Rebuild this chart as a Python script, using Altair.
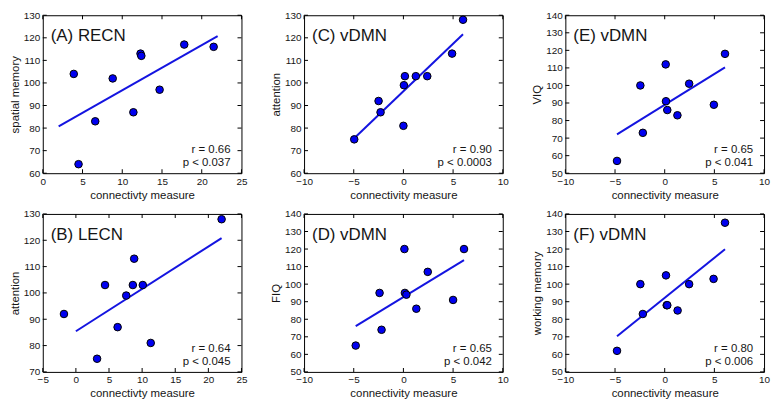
import altair as alt
import pandas as pd

# ---------------- data ----------------
A_x = [3.9, 4.5, 6.6, 8.8, 11.4, 12.3, 12.4, 14.7, 17.8, 21.5]
A_y = [104, 64, 83, 102, 87, 113, 112, 97, 117, 116]

B_x = [-1.8, 3.2, 4.4, 6.3, 7.6, 8.6, 8.8, 10.1, 11.3, 22.0]
B_y = [92, 75, 103, 87, 99, 103, 113, 103, 81, 128]

C_x = [-4.95, -2.5, -2.3, 0.0, 0.05, 0.15, 1.25, 2.4, 4.9, 6.0]
C_y = [75, 92, 87, 81, 99, 103, 103, 103, 113, 128]

D_x = [-4.8, -2.4, -2.2, 0.1, 0.15, 0.3, 1.3, 2.45, 5.0, 6.1]
D_y = [65, 95, 74, 120, 95, 94, 86, 107, 91, 120]

E_x = [-4.8, -2.45, -2.2, 0.1, 0.13, 0.26, 1.28, 2.46, 4.95, 6.07]
E_y = [57, 100, 73, 112, 91, 86, 83, 101, 89, 118]

F_x = [-4.8, -2.45, -2.2, 0.13, 0.2, 0.26, 1.3, 2.46, 4.92, 6.07]
F_y = [62, 100, 83, 105, 88, 88, 85, 100, 103, 135]

labels = ["(A) RECN", "(C) vDMN", "(E) vDMN", "(B) LECN", "(D) vDMN", "(F) vDMN"]
y_titles = ["spatial memory", "attention", "VIQ", "attention", "FIQ", "working memory"]
x_titles = ["connectivty measure", "connectivity measure", "connectivity measure",
            "connectivty measure", "connectivity measure", "connectivity measure"]
r_texts = ["r = 0.66", "r = 0.90", "r = 0.65", "r = 0.64", "r = 0.65", "r = 0.80"]
p_texts = ["p < 0.037", "p < 0.0003", "p < 0.041", "p < 0.045", "p < 0.042", "p < 0.006"]

x_domains = [[0, 25], [-10, 10], [-10, 10], [-5, 25], [-10, 10], [-10, 10]]
y_domains = [[60, 130], [60, 130], [50, 140], [70, 130], [50, 140], [50, 140]]
x_ticks = [[0, 5, 10, 15, 20, 25], [-10, -5, 0, 5, 10], [-10, -5, 0, 5, 10],
           [-5, 0, 5, 10, 15, 20, 25], [-10, -5, 0, 5, 10], [-10, -5, 0, 5, 10]]
y_ticks = [[60, 70, 80, 90, 100, 110, 120, 130], [60, 70, 80, 90, 100, 110, 120, 130],
           [50, 60, 70, 80, 90, 100, 110, 120, 130, 140], [70, 80, 90, 100, 110, 120, 130],
           [50, 60, 70, 80, 90, 100, 110, 120, 130, 140], [50, 60, 70, 80, 90, 100, 110, 120, 130, 140]]
fit_extents = [[2, 22], None, None, [0, 22], None, None]

xs_all = [A_x, C_x, E_x, B_x, D_x, F_x]
ys_all = [A_y, C_y, E_y, B_y, D_y, F_y]

# ---------------- style ----------------
FONT = "Liberation Sans"
W, H = 200, 159
POINT_FILL = "#0000f0"
LINE_COLOR = "#1414e0"
TXT = "#151515"
TICK = 4


def panel(i):
    df = pd.DataFrame({"x": xs_all[i], "y": ys_all[i]})
    xd, yd = x_domains[i], y_domains[i]
    xsc = alt.Scale(domain=xd, nice=False, zero=False)
    ysc = alt.Scale(domain=yd, nice=False, zero=False)
    xax = alt.Axis(values=x_ticks[i], title=x_titles[i], labelFlush=False, labelOverlap=False)
    yax = alt.Axis(values=y_ticks[i], title=y_titles[i], labelOverlap=False)
    X = alt.X("x:Q", scale=xsc, axis=xax)
    Y = alt.Y("y:Q", scale=ysc, axis=yax)

    reg_kwargs = {}
    if fit_extents[i] is not None:
        reg_kwargs["extent"] = fit_extents[i]
    line = (alt.Chart(df)
            .transform_regression("x", "y", **reg_kwargs)
            .mark_line(color=LINE_COLOR, strokeWidth=2, clip=True)
            .encode(x=X, y=Y))

    pts = (alt.Chart(df)
           .mark_point(shape="circle", filled=True, fill=POINT_FILL, stroke="black",
                       strokeWidth=1, size=58, opacity=1)
           .encode(x=X, y=Y))

    xt = pd.DataFrame({"t": x_ticks[i]})
    yt = pd.DataFrame({"t": y_ticks[i]})
    TX = alt.X("t:Q", scale=xsc, axis=xax)
    TY = alt.Y("t:Q", scale=ysc, axis=yax)
    tick_style = dict(thickness=1, size=TICK, color="black", opacity=1)
    t_bottom = (alt.Chart(xt).mark_tick(orient="vertical", yOffset=-TICK / 2, **tick_style)
                .encode(x=TX, y=alt.YDatum(yd[0], scale=ysc, axis=yax)))
    t_top = (alt.Chart(xt).mark_tick(orient="vertical", yOffset=TICK / 2, **tick_style)
             .encode(x=TX, y=alt.YDatum(yd[1], scale=ysc, axis=yax)))
    t_left = (alt.Chart(yt).mark_tick(orient="horizontal", xOffset=TICK / 2, **tick_style)
              .encode(y=TY, x=alt.XDatum(xd[0], scale=xsc, axis=xax)))
    t_right = (alt.Chart(yt).mark_tick(orient="horizontal", xOffset=-TICK / 2, **tick_style)
               .encode(y=TY, x=alt.XDatum(xd[1], scale=xsc, axis=xax)))

    lab = (alt.Chart(pd.DataFrame({"t": [labels[i]]}))
           .mark_text(font=FONT, fontSize=17, align="left", baseline="alphabetic", color=TXT)
           .encode(text="t:N", x=alt.value(8), y=alt.value(26)))
    r_lab = (alt.Chart(pd.DataFrame({"t": [r_texts[i]]}))
             .mark_text(font=FONT, fontSize=11.5, align="right", baseline="alphabetic", color=TXT)
             .encode(text="t:N", x=alt.value(W - 11), y=alt.value(H - 20)))
    p_lab = (alt.Chart(pd.DataFrame({"t": [p_texts[i]]}))
             .mark_text(font=FONT, fontSize=11.5, align="right", baseline="alphabetic", color=TXT)
             .encode(text="t:N", x=alt.value(W - 11), y=alt.value(H - 7)))

    return (alt.layer(line, pts, t_bottom, t_top, t_left, t_right, lab, r_lab, p_lab)
            .properties(width=W, height=H))


chart = (alt.concat(*[panel(i) for i in range(6)], columns=3,
                    spacing={"row": 41, "column": 63}, bounds="flush")
         .properties(padding=0, background="white")
         .configure_view(stroke="black", strokeWidth=1)
         .configure_axis(grid=False, domain=False, ticks=False, labelOverlap=False,
                         labelFlush=False,
                         labelFont=FONT, labelFontSize=10, labelColor=TXT, labelPadding=3,
                         titleFont=FONT, titleFontSize=11.5, titleFontWeight="normal",
                         titleColor=TXT, titlePadding=3))

chart.save("out.html", embed_options={"renderer": "svg", "actions": False})
